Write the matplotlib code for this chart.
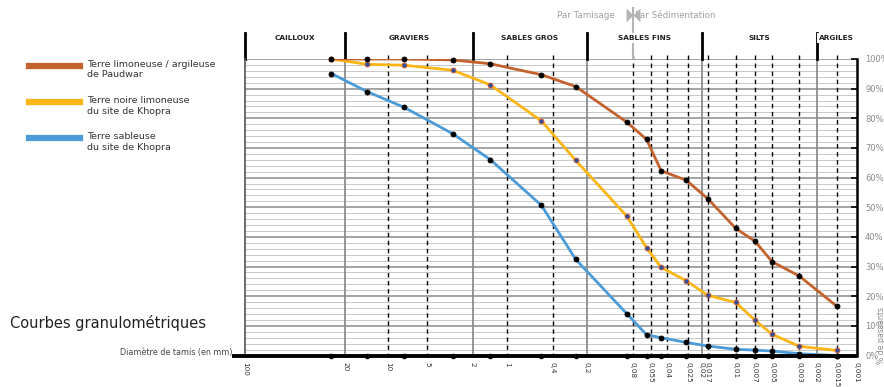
import matplotlib

matplotlib.use("Agg")
import matplotlib.pyplot as plt
import numpy as np
from matplotlib.lines import Line2D
from matplotlib.markers import MarkerStyle
from matplotlib.ticker import NullLocator
from matplotlib.transforms import offset_copy

# sieve sizes (mm) printed under the axis and their place along the sheet (the
# hand-made axis is only roughly logarithmic)
tick_mm = [100, 20, 10, 5, 2, 1, 0.4, 0.2, 0.08, 0.055, 0.04, 0.025, 0.02,
           0.017, 0.01, 0.007, 0.005, 0.003, 0.002, 0.0015, 0.001]
tick_labels = ["100", "20", "10", "5", "2", "1", "0,4", "0,2", "0,08", "0,055",
               "0,04", "0,025", "0,02", "0,017", "0,01", "0,007", "0,005",
               "0,003", "0,002", "0,0015", "0,001"]
tick_pos = [0, 100.3, 142.7, 182.3, 227.7, 261.7, 307.7, 341.7, 387.7, 405.7,
            422.3, 443, 456.7, 462.7, 490.7, 510, 527.3, 554.3, 571.7, 591.5,
            611.7]

classes = ["CAILLOUX", "GRAVIERS", "SABLES GROS", "SABLES FINS", "SILTS", "ARGILES"]
class_bounds = [100, 20, 2, 0.2, 0.02, 0.002, 0.001]

# measured diameters (mm) and % passing
diam = [25, 14, 7.5, 3, 1.4, 0.5, 0.25, 0.09, 0.06, 0.045, 0.026, 0.017,
        0.01, 0.007, 0.005, 0.003, 0.0015]
paudwar = [100, 100, 100, 99.7, 98.4, 94.7, 90.7, 78.7, 72.9, 62.3, 59.1,
           52.9, 42.9, 38.5, 31.6, 26.8, 16.7]
noire = [100, 98.2, 97.9, 96.2, 91.3, 79.1, 65.8, 47.0, 36.4, 29.7, 25.2,
         20.3, 17.9, 11.9, 7.1, 3.1, 1.7]
sableuse = [95.1, 89.0, 83.7, 74.8, 66.1, 50.6, 32.4, 14.1, 7.0, 6.0, 4.4,
            3.2, 2.1, 1.8, 1.5, 0.6, 0.0]

series = [
    ("Terre limoneuse / argileuse\nde Paudwar", paudwar, "#c4622d", "black", "black"),
    ("Terre noire limoneuse\ndu site de Khopra", noire, "#fbb515", "#2d4f9e", "#e2622c"),
    ("Terre sableuse\ndu site de Khopra", sableuse, "#4b9bd8", "black", "black"),
]

W, H = 884, 387
_lx = np.log10(tick_mm)[::-1]
_px = -np.array(tick_pos, dtype=float)[::-1]


# forward has to grow with the diameter; the axis is then shown reversed
def forward(d):
    d = np.clip(np.asarray(d, dtype=float), 1e-9, None)
    return np.interp(np.log10(d), _lx, _px)


def inverse(p):
    return 10 ** np.interp(p, _px, _lx)


fig = plt.figure(figsize=(W / 100, H / 100), dpi=100)
ax = fig.add_axes([245 / W, 31.5 / H, 611.7 / W, 296.5 / H])
ax.set_xscale("function", functions=(forward, inverse))
ax.xaxis.set_minor_locator(NullLocator())
ax.yaxis.set_minor_locator(NullLocator())

# horizontal grid, every 2 %, darker every 10 %
for v in range(2, 101, 2):
    if v % 10 == 0:
        ax.axhline(v, color="#8c8c8c", lw=1.1, zorder=1)
    else:
        ax.axhline(v, color="#c8c8c8", lw=0.7, zorder=1)

# vertical grid: solid at class limits, dashed at the other sieves
for d in tick_mm[1:-1]:
    if d in class_bounds:
        ax.plot([d, d], [0, 100], color="#8c8c8c", lw=1.3, zorder=1)
    else:
        ax.plot([d, d], [101.2, 0], color="black", lw=1.0,
                ls=(0, (3.2, 2.6)), zorder=2, clip_on=False)

# curves (drawn last to first so the brown dots stay on top)
for k, (label, ys, color, mface, medge) in enumerate(series[::-1]):
    ax.plot(diam, ys, color=color, lw=2, zorder=4 + k * 0.1, solid_capstyle="round")
    ax.plot(diam, ys, "o", ms=3.6, mfc=mface, mec=medge, mew=0.6,
            zorder=5 + k * 0.1, clip_on=False)

# marks of the measured sieves on the bottom axis
ax.plot(diam, [0] * len(diam), "o", color="black", ms=3, zorder=6, clip_on=False)

for side in ["top", "bottom"]:
    ax.spines[side].set_visible(False)
ax.spines["left"].set_color("#555555")
ax.spines["left"].set_linewidth(1.2)
ax.spines["right"].set_color("black")
ax.spines["right"].set_linewidth(1.8)
ax.plot([-0.022, 1.0], [0, 0], transform=ax.transAxes, color="black", lw=2.8,
        clip_on=False, zorder=7, solid_capstyle="butt")

ax.set_xticks(tick_mm)
ax.set_xticklabels(tick_labels, rotation=270, ha="center", va="top")
ax.tick_params(axis="x", length=0, labelsize=5.2, labelcolor="#333333", pad=4.5)

ax.yaxis.tick_right()
ax.set_yticks(range(0, 101, 10))
ax.set_yticklabels([f"{v}%" for v in range(0, 101, 10)])
ax.tick_params(axis="y", direction="in", length=4, width=1.2, color="black",
               labelsize=6, labelcolor="#8a8a8a", pad=6)

ax.set_xlim(100, 0.001)
ax.set_ylim(0, 100)

# class header above the grid
xt = ax.get_xaxis_transform()
for b in class_bounds[:-1]:
    ax.plot([b, b], [1.0, 1.088], transform=xt, color="black", lw=2,
            clip_on=False)
for name, a, b in zip(classes, class_bounds[:-1], class_bounds[1:]):
    mid = inverse((forward(a) + forward(b)) / 2)
    ax.text(mid, 1.071, name, transform=xt, ha="center", va="center",
            fontsize=5.3, fontweight="bold", color="#222222", zorder=9,
            bbox=dict(facecolor="white", edgecolor="none", pad=1.5))

# sieving / sedimentation limit
ax.plot([0.08, 0.08], [1.0, 1.172], transform=xt, color="#b4b4b4", lw=1.5,
        clip_on=False, zorder=3)
ax.text(0.08, 1.148, "Par Tamisage", transform=offset_copy(xt, fig, x=-18, units="dots"),
        ha="right", va="center", fontsize=6.3, color="#a0a0a0")
ax.text(0.08, 1.148, "Par Sédimentation", transform=offset_copy(xt, fig, x=2, units="dots"),
        ha="left", va="center", fontsize=6.3, color="#a0a0a0", zorder=3)
ax.plot([0.08], [1.148], transform=xt, marker=MarkerStyle([(-1, 1), (0, 0), (-1, -1)]),
        ms=10, color="#b4b4b4", mew=0, clip_on=False, zorder=8)
ax.plot([0.08], [1.148], transform=xt, marker=MarkerStyle([(1, 1), (0, 0), (1, -1)]),
        ms=10, color="#b4b4b4", mew=0, clip_on=False, zorder=8)

# legend on the left
for i, (label, ys, color, mface, medge) in enumerate(series):
    y = 65.7 + 36.3 * i
    fig.add_artist(Line2D([29 / W, 80 / W], [1 - y / H, 1 - y / H], color=color, lw=4.5))
    fig.text(87 / W, 1 - (y - 6) / H, label, ha="left", va="top", fontsize=6.8,
             color="#333333", linespacing=1.25)

fig.text(10 / W, 1 - 323 / H, "Courbes granulométriques", ha="left", va="center",
         fontsize=10.5, color="#222222")
fig.text(232 / W, 1 - 352 / H, "Diamètre de tamis (en mm)", ha="right", va="center",
         fontsize=5.8, color="#444444")
fig.text(881 / W, 1 - 335 / H, "% de passants", ha="center", va="center",
         rotation=90, fontsize=5.6, color="#8a8a8a")

fig.savefig("out.png", dpi=100)
